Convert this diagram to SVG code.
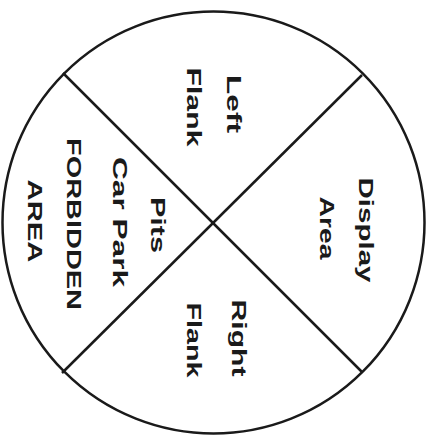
<svg xmlns="http://www.w3.org/2000/svg" width="438" height="435" viewBox="0 0 438 435">
<style>
.t{font-family:"Liberation Sans",Arial,sans-serif;font-weight:bold;font-size:21px;fill:#1a1a1a;text-anchor:middle}
.ln{stroke:#1a1a1a;stroke-width:2.5;fill:none}
</style>
<rect width="438" height="435" fill="#fff"/>
<g id="boundary"><circle class="ln" cx="213.5" cy="222.5" r="211"/></g>
<g id="connectors">
<line class="ln" x1="63" y1="73" x2="362" y2="372"/>
<line class="ln" x1="362" y1="75" x2="62" y2="373"/>
</g>
<g id="left-flank">
<text class="t" transform="translate(227,104) rotate(90)" textLength="58" lengthAdjust="spacingAndGlyphs">Left</text>
<text class="t" transform="translate(187,107) rotate(90)" textLength="79" lengthAdjust="spacingAndGlyphs">Flank</text>
</g>
<g id="display-area">
<text class="t" transform="translate(359,230) rotate(90)" textLength="105" lengthAdjust="spacingAndGlyphs">Display</text>
<text class="t" transform="translate(320,228) rotate(90)" textLength="63" lengthAdjust="spacingAndGlyphs">Area</text>
</g>
<g id="right-flank">
<text class="t" transform="translate(232,338) rotate(90)" textLength="77" lengthAdjust="spacingAndGlyphs">Right</text>
<text class="t" transform="translate(187,340) rotate(90)" textLength="75" lengthAdjust="spacingAndGlyphs">Flank</text>
</g>
<g id="pits">
<text class="t" transform="translate(151,225) rotate(90)" textLength="56" lengthAdjust="spacingAndGlyphs">Pits</text>
<text class="t" transform="translate(113,222) rotate(90)" textLength="130" lengthAdjust="spacingAndGlyphs">Car Park</text>
<text class="t" transform="translate(67,224) rotate(90)" textLength="172" lengthAdjust="spacingAndGlyphs">FORBIDDEN</text>
<text class="t" transform="translate(28,221) rotate(90)" textLength="83" lengthAdjust="spacingAndGlyphs">AREA</text>
</g>
</svg>
